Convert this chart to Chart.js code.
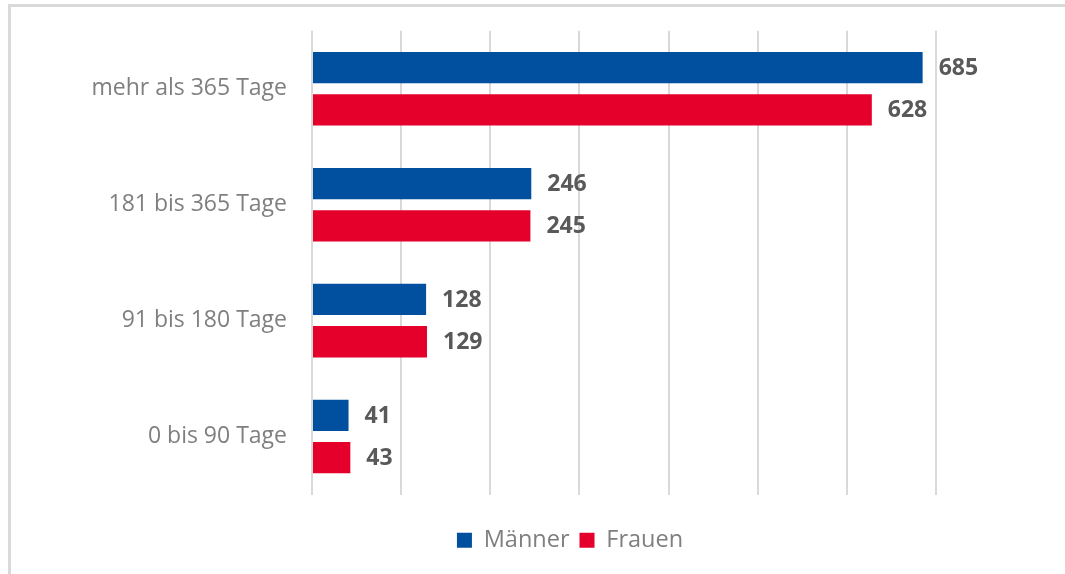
<!DOCTYPE html>
<html>
<head>
<meta charset="utf-8">
<script src="https://cdn.jsdelivr.net/npm/chart.js@4"></script>
<style>
  html, body { margin: 0; padding: 0; background: #fff; overflow: hidden; }
  #wrap { position: relative; width: 1065px; height: 574px; }
  #frame { position: absolute; left: 8px; top: 4px; width: 1100px; height: 600px;
           border-top: 3px solid #d9d9d9; border-left: 3px solid #d9d9d9; }
  canvas { position: absolute; left: 0; top: 0; }
</style>
</head>
<body>
<div id="wrap">
  <div id="frame"></div>
  <canvas id="durationChart" width="1065" height="574"></canvas>
</div>
<script>
const categories = ['mehr als 365 Tage', '181 bis 365 Tage', '91 bis 180 Tage', '0 bis 90 Tage'];
const maenner = [685, 246, 128, 41];
const frauen = [628, 245, 129, 43];

const FONT = '"Open Sans", sans-serif';
// the framed chart is wider than the visible crop, legend is centred on it
const FRAME_CENTER = 570;

// draws the bold numbers right of each bar
const valueLabels = {
    id: 'valueLabels',
    afterDatasetsDraw(chart) {
        const ctx = chart.ctx;
        ctx.save();
        ctx.font = 'bold 23px ' + FONT;
        ctx.fillStyle = '#595959';
        ctx.textAlign = 'left';
        ctx.textBaseline = 'middle';
        chart.data.datasets.forEach((ds, i) => {
            chart.getDatasetMeta(i).data.forEach((bar, j) => {
                ctx.fillText(ds.data[j], bar.x + 16, bar.y + 1);
            });
        });
        ctx.restore();
    }
};

const legendShift = {
    id: 'legendShift',
    afterLayout(chart) {
        const shift = FRAME_CENTER - (chart.legend.left + chart.legend.right) / 2;
        chart.legend.left += shift;
        chart.legend.right += shift;
    }
};

const graphContext = document.getElementById('durationChart').getContext('2d');
new Chart(graphContext, {
    type: 'bar',
    data: {
        labels: categories,
        datasets: [
            { label: 'Männer', data: maenner, backgroundColor: '#00509f' },
            { label: 'Frauen', data: frauen, backgroundColor: '#e4002b' }
        ]
    },
    options: {
        indexAxis: 'y',
        responsive: false,
        animation: false,
        devicePixelRatio: 1,
        categoryPercentage: 0.73,
        barPercentage: 0.74,
        layout: {
            padding: { top: 28, right: 129, bottom: 12, left: 0 }
        },
        plugins: {
            legend: {
                position: 'bottom',
                labels: {
                    boxWidth: 15,
                    boxHeight: 15,
                    color: '#7f7f7f',
                    font: { family: FONT, size: 23.5 },
                    padding: 10
                }
            },
            tooltip: { enabled: false }
        },
        scales: {
            x: {
                min: 0,
                max: 700,
                ticks: { stepSize: 100, display: false },
                grid: { color: '#d9d9d9', lineWidth: 2, drawTicks: false },
                border: { display: false },
                afterFit: scale => { scale.height = 24; }
            },
            y: {
                grid: { display: false },
                border: { display: false },
                ticks: {
                    color: '#7f7f7f',
                    font: { family: FONT, size: 23 },
                    padding: 17
                },
                afterFit: scale => { scale.width = 312; }
            }
        }
    },
    plugins: [valueLabels, legendShift]
});
</script>
</body>
</html>
